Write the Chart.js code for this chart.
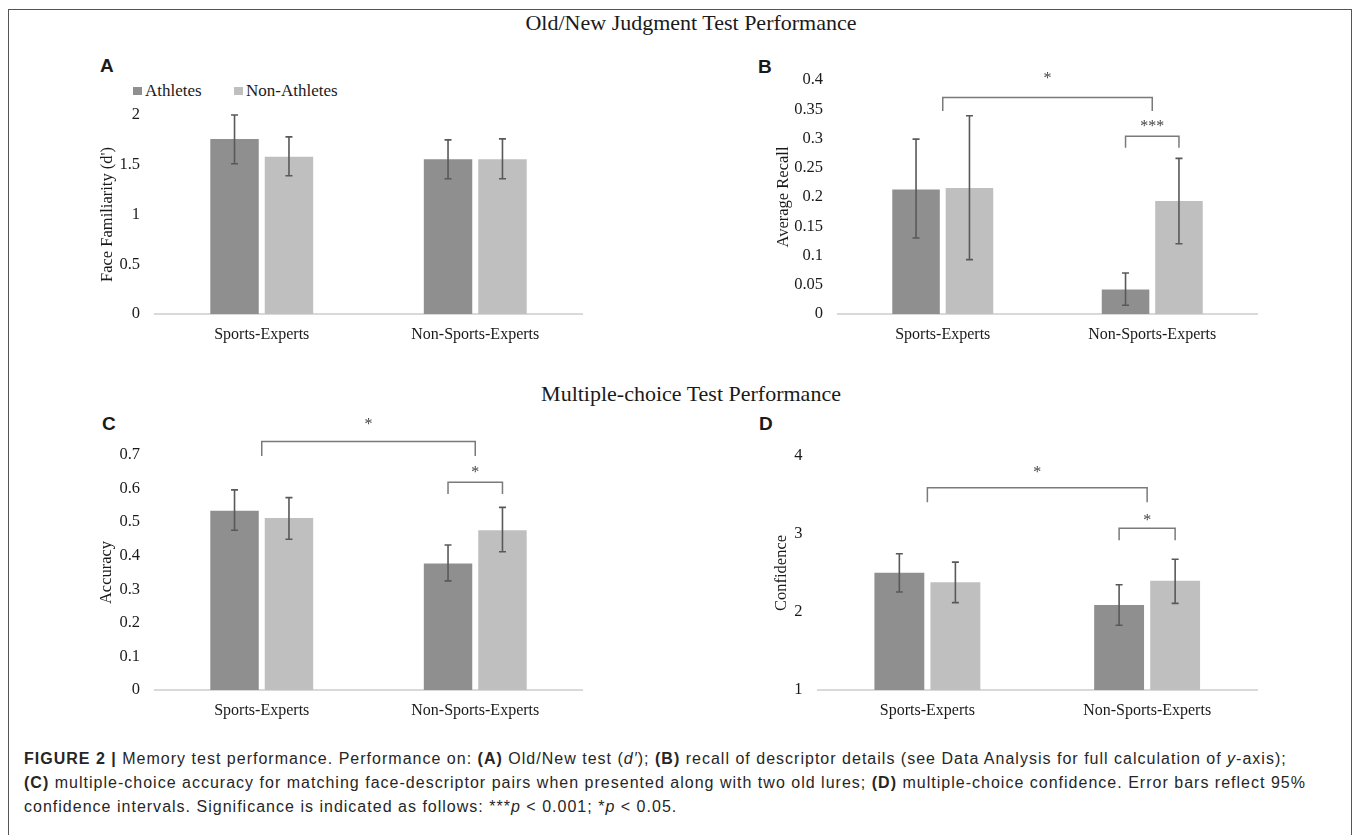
<!DOCTYPE html>
<html>
<head>
<meta charset="utf-8">
<script src="https://cdn.jsdelivr.net/npm/chart.js@4.4.0/dist/chart.umd.min.js"></script>
<style>
  body { margin: 0; width: 1357px; height: 835px; background: #fff; position: relative; overflow: hidden;
         font-family: "Liberation Serif", "Times New Roman", serif; color: #1a1a1a; }
  .frame { position: absolute; left: 8px; top: 9px; width: 1342px; height: 840px; border: 1.5px solid #555; border-bottom: none; }
  .abs { position: absolute; white-space: nowrap; }
  .title { font-size: 22px; line-height: 22px; transform: translateX(-50%); }
  .letter { font-family: "Liberation Sans", Arial, sans-serif; font-weight: bold; font-size: 19px; line-height: 19px; }
  .leg { font-size: 17px; line-height: 17px; }
  .sw { position: absolute; width: 9px; height: 8px; }
  .cap { font-family: "Liberation Sans", Arial, sans-serif; font-size: 16px; line-height: 16px; color: #262626; }
  .cap b { font-weight: bold; }
</style>
</head>
<body>
<div class="frame"></div>

<div class="abs title" style="left:691px; top:12px;">Old/New Judgment Test Performance</div>
<div class="abs title" style="left:691px; top:383px;">Multiple-choice Test Performance</div>

<div class="abs letter" style="left:100px; top:56px;">A</div>
<div class="abs letter" style="left:758px; top:57px;">B</div>
<div class="abs letter" style="left:102px; top:414px;">C</div>
<div class="abs letter" style="left:759px; top:414px;">D</div>

<div id="legend"></div>

<canvas id="chartA" class="abs" style="left:95px; top:85px;" width="497" height="260"></canvas>
<canvas id="chartB" class="abs" style="left:765px; top:55px;" width="502" height="290"></canvas>
<canvas id="chartC" class="abs" style="left:95px; top:405px;" width="497" height="316"></canvas>
<canvas id="chartD" class="abs" style="left:765px; top:405px;" width="502" height="316"></canvas>

<div class="abs cap capline" style="left:24px; top:751px;"><b>FIGURE 2 |</b> Memory test performance. Performance on: <b>(A)</b> Old/New test (<i>d′</i>); <b>(B)</b> recall of descriptor details (see Data Analysis for full calculation of <i>y</i>-axis);</div>
<div class="abs cap capline" style="left:24px; top:775px;"><b>(C)</b> multiple-choice accuracy for matching face-descriptor pairs when presented along with two old lures; <b>(D)</b> multiple-choice confidence. Error bars reflect 95%</div>
<div class="abs cap capline" style="left:24px; top:799px;">confidence intervals. Significance is indicated as follows: ***<i>p</i> &lt; 0.001; *<i>p</i> &lt; 0.05.</div>

<script>
// categories & series
const categories = ['Sports-Experts', 'Non-Sports-Experts'];
const seriesNames = ['Athletes', 'Non-Athletes'];
const seriesColors = ['#8f8f8f', '#bfbfbf'];

// (A) Old/New judgment, face familiarity d'
const ticksA = [0, 0.5, 1, 1.5, 2];
const famAthletes = [1.76, 1.555];
const famAthletesLow = [1.51, 1.36];
const famAthletesHigh = [2.0, 1.75];
const famNonAthletes = [1.58, 1.555];
const famNonAthletesLow = [1.39, 1.36];
const famNonAthletesHigh = [1.78, 1.76];

// (B) average recall
const ticksB = [0, 0.05, 0.1, 0.15, 0.2, 0.25, 0.3, 0.35, 0.4];
const recallAthletes = [0.213, 0.042];
const recallAthletesLow = [0.130, 0.015];
const recallAthletesHigh = [0.299, 0.070];
const recallNonAthletes = [0.2155, 0.193];
const recallNonAthletesLow = [0.093, 0.120];
const recallNonAthletesHigh = [0.339, 0.266];

// (C) multiple-choice accuracy
const ticksC = [0, 0.1, 0.2, 0.3, 0.4, 0.5, 0.6, 0.7];
const accAthletes = [0.534, 0.377];
const accAthletesLow = [0.476, 0.325];
const accAthletesHigh = [0.596, 0.432];
const accNonAthletes = [0.512, 0.476];
const accNonAthletesLow = [0.449, 0.412];
const accNonAthletesHigh = [0.573, 0.544];

// (D) multiple-choice confidence
const ticksD = [1, 2, 3, 4];
const confAthletes = [2.504, 2.09];
const confAthletesLow = [2.256, 1.83];
const confAthletesHigh = [2.747, 2.35];
const confNonAthletes = [2.38, 2.40];
const confNonAthletesLow = [2.12, 2.11];
const confNonAthletesHigh = [2.64, 2.676];

// significance brackets: ends at a category (cat) or at one bar (cat + series), heights in axis units
const bracketsB = [
  { from: { cat: 0 }, to: { cat: 1 }, y: 0.370, drop: 0.347, label: '*', labelY: 0.408 },
  { from: { cat: 1, series: 0 }, to: { cat: 1, series: 1 }, y: 0.304, drop: 0.284, label: '***', labelY: 0.326 }
];
const bracketsC = [
  { from: { cat: 0 }, to: { cat: 1 }, y: 0.740, drop: 0.697, label: '*', labelY: 0.801 },
  { from: { cat: 1, series: 0 }, to: { cat: 1, series: 1 }, y: 0.619, drop: 0.584, label: '*', labelY: 0.659 }
];
const bracketsD = [
  { from: { cat: 0 }, to: { cat: 1 }, y: 3.594, drop: 3.406, label: '*', labelY: 3.83 },
  { from: { cat: 1, series: 0 }, to: { cat: 1, series: 1 }, y: 3.073, drop: 2.919, label: '*', labelY: 3.22 }
];

const serif = '"Liberation Serif", "Times New Roman", serif';
const ink = '#1a1a1a';

// legend (panel A only)
const legend = document.getElementById('legend');
const legendX = [133, 234];
seriesNames.forEach((name, k) => {
  const sw = document.createElement('div');
  sw.className = 'sw';
  sw.style.left = legendX[k] + 'px';
  sw.style.top = '87px';
  sw.style.background = seriesColors[k];
  legend.appendChild(sw);
  const t = document.createElement('div');
  t.className = 'abs leg';
  t.style.left = (legendX[k] + 12) + 'px';
  t.style.top = '82px';
  t.textContent = name;
  legend.appendChild(t);
});

// error bars drawn from errLow / errHigh on each dataset
const errorBars = {
  id: 'errorBars',
  afterDatasetsDraw(chart) {
    const { ctx } = chart;
    const y = chart.scales.y;
    ctx.save();
    ctx.strokeStyle = '#595959';
    ctx.lineWidth = 1.6;
    chart.data.datasets.forEach((ds, di) => {
      chart.getDatasetMeta(di).data.forEach((bar, i) => {
        const top = y.getPixelForValue(ds.errHigh[i]);
        const bot = y.getPixelForValue(ds.errLow[i]);
        ctx.beginPath();
        ctx.moveTo(bar.x, top); ctx.lineTo(bar.x, bot);
        ctx.moveTo(bar.x - 3.5, top); ctx.lineTo(bar.x + 3.5, top);
        ctx.moveTo(bar.x - 3.5, bot); ctx.lineTo(bar.x + 3.5, bot);
        ctx.stroke();
      });
    });
    ctx.restore();
  }
};

const brackets = {
  id: 'brackets',
  afterDatasetsDraw(chart, args, opts) {
    const items = opts.items || [];
    if (!items.length) return;
    const { ctx } = chart;
    const { x, y } = chart.scales;
    const px = e => e.series == null ? x.getPixelForValue(e.cat) : chart.getDatasetMeta(e.series).data[e.cat].x;
    ctx.save();
    ctx.strokeStyle = '#7a7a7a';
    ctx.lineWidth = 1.5;
    ctx.fillStyle = '#444';
    ctx.font = '16px ' + serif;
    ctx.textAlign = 'center';
    ctx.textBaseline = 'alphabetic';
    items.forEach(b => {
      const x1 = px(b.from), x2 = px(b.to);
      const yTop = y.getPixelForValue(b.y), yDrop = y.getPixelForValue(b.drop);
      ctx.beginPath();
      ctx.moveTo(x1, yDrop); ctx.lineTo(x1, yTop); ctx.lineTo(x2, yTop); ctx.lineTo(x2, yDrop);
      ctx.stroke();
      ctx.fillText(b.label, (x1 + x2) / 2, y.getPixelForValue(b.labelY) + 8);
    });
    ctx.restore();
  }
};

function makePanel(id, box, ticks, yTitle, series, bracketItems) {
  return new Chart(document.getElementById(id), {
    type: 'bar',
    data: {
      labels: categories,
      datasets: series.map((s, k) => ({
        label: seriesNames[k],
        data: s[0],
        errLow: s[1],
        errHigh: s[2],
        backgroundColor: seriesColors[k],
        categoryPercentage: 0.51,
        barPercentage: 0.89
      }))
    },
    options: {
      responsive: false,
      animation: false,
      layout: { padding: { top: box.padTop, right: 10, left: 0, bottom: 0 } },
      plugins: {
        legend: { display: false },
        tooltip: { enabled: false },
        brackets: { items: bracketItems }
      },
      scales: {
        x: {
          grid: { display: false, drawTicks: false },
          border: { color: '#d9d9d9', width: 2 },
          ticks: { font: { family: serif, size: 16 }, color: ink, padding: 11 },
          afterFit: s => { s.height = 31; }
        },
        y: {
          min: ticks[0],
          max: ticks[ticks.length - 1],
          grid: { display: false, drawTicks: false },
          border: { display: false },
          afterBuildTicks: s => { s.ticks = ticks.map(v => ({ value: v })); },
          ticks: { font: { family: serif, size: 16.5 }, color: ink, padding: 15, callback: v => String(v) },
          afterFit: s => { s.width = box.yw; },
          title: { display: true, text: yTitle, font: { family: serif, size: 16.5 }, color: ink,
                   padding: { top: box.titlePad, bottom: 0 } }
        }
      }
    },
    plugins: [errorBars, brackets]
  });
}

makePanel('chartA', { padTop: 30, yw: 60, titlePad: 3 }, ticksA, "Face Familiarity (d')",
  [[famAthletes, famAthletesLow, famAthletesHigh], [famNonAthletes, famNonAthletesLow, famNonAthletesHigh]], []);
makePanel('chartB', { padTop: 25, yw: 73, titlePad: 9 }, ticksB, 'Average Recall',
  [[recallAthletes, recallAthletesLow, recallAthletesHigh], [recallNonAthletes, recallNonAthletesLow, recallNonAthletesHigh]], bracketsB);
makePanel('chartC', { padTop: 50, yw: 60, titlePad: 2 }, ticksC, 'Accuracy',
  [[accAthletes, accAthletesLow, accAthletesHigh], [accNonAthletes, accNonAthletesLow, accNonAthletesHigh]], bracketsC);
makePanel('chartD', { padTop: 51, yw: 52.5, titlePad: 7 }, ticksD, 'Confidence',
  [[confAthletes, confAthletesLow, confAthletesHigh], [confNonAthletes, confNonAthletesLow, confNonAthletesHigh]], bracketsD);

// stretch caption lines to the width of line 2 in the figure
const lines = document.querySelectorAll('.capline');
const natural = lines[1].getBoundingClientRect().width;
const spacing = (1282 - natural) / lines[1].textContent.length;
lines.forEach(l => { l.style.letterSpacing = spacing + 'px'; });
</script>
</body>
</html>
